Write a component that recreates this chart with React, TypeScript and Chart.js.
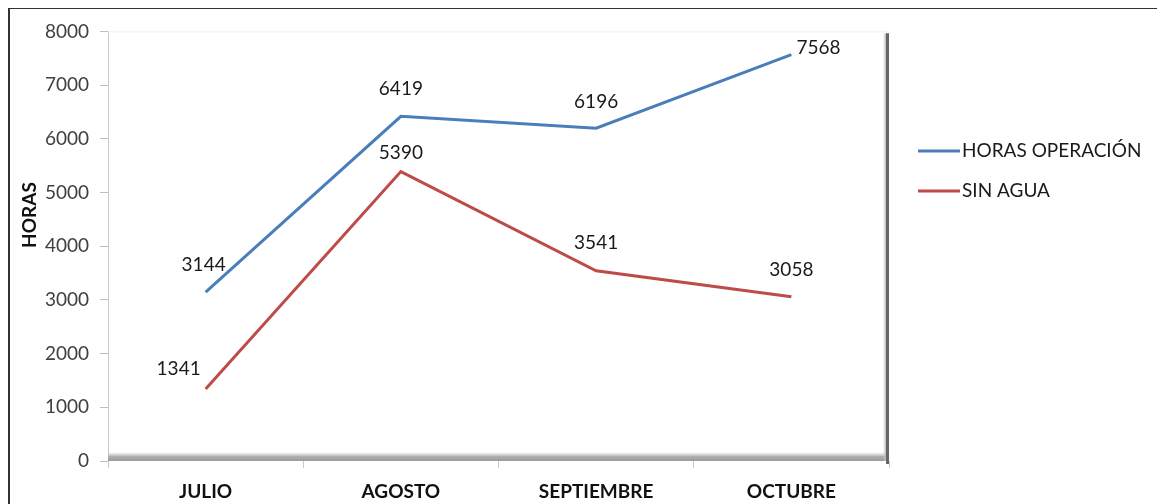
import React, { useEffect, useRef } from "react";
import { Chart, registerables } from "chart.js";

Chart.register(...registerables);

const categories = ["JULIO", "AGOSTO", "SEPTIEMBRE", "OCTUBRE"];
const horasOperacion = [3144, 6419, 6196, 7568];
const sinAgua = [1341, 5390, 3541, 3058];
const seriesNames = ["HORAS OPERACIÓN", "SIN AGUA"];
const yTitle = "HORAS";

const BLUE = "#4A7EBB";
const RED = "#BE4B48";
const FONT = "Lato, 'Open Sans', sans-serif";

// label placement per dataset/point: [dx, dy, align]
const labelPlacement: [number, number, CanvasTextAlign][][] = [
  [[-2, -27, "center"], [0, -27, "center"], [0, -26, "center"], [5, -7, "left"]],
  [[-27, -20, "center"], [0, -19, "center"], [0, -28, "center"], [0, -27, "center"]],
];

const decorPlugin = {
  id: "decor",
  beforeDatasetsDraw(chart: any) {
    const { ctx, chartArea } = chart;
    const { left, right, top, bottom } = chartArea;
    ctx.save();
    ctx.fillStyle = "#f0f0f0";
    ctx.fillRect(left, top, right - left, 1);
    const g = ctx.createLinearGradient(0, bottom - 9, 0, bottom);
    g.addColorStop(0, "rgba(200,200,200,0)");
    g.addColorStop(0.5, "#b0b0b0");
    g.addColorStop(1, "#9a9a9a");
    ctx.fillStyle = g;
    ctx.fillRect(left, bottom - 9, right - left, 9);
    const g2 = ctx.createLinearGradient(right - 6, 0, right, 0);
    g2.addColorStop(0, "rgba(200,200,200,0)");
    g2.addColorStop(0.5, "#b8b8b8");
    g2.addColorStop(1, "#6a6a6a");
    ctx.fillStyle = g2;
    ctx.fillRect(right - 6, top + 2, 6, bottom - top - 2);
    ctx.fillStyle = "#666";
    ctx.fillRect(right - 3, top + 2, 3, bottom - top + 1);
    ctx.restore();
  },
  afterDraw(chart: any) {
    const { ctx, chartArea } = chart;
    ctx.save();
    ctx.font = `19px ${FONT}`;
    ctx.fillStyle = "#1a1a1a";
    ctx.textBaseline = "middle";
    chart.data.datasets.forEach((ds: any, di: number) => {
      const meta = chart.getDatasetMeta(di);
      meta.data.forEach((pt: any, i: number) => {
        const [dx, dy, align] = labelPlacement[di][i];
        ctx.textAlign = align;
        ctx.fillText(String(ds.data[i]), pt.x + dx, pt.y + dy);
      });
    });
    const lx = chartArea.right + 29;
    chart.data.datasets.forEach((ds: any, di: number) => {
      const y = 142 + di * 40;
      ctx.strokeStyle = ds.borderColor;
      ctx.lineWidth = 3;
      ctx.beginPath();
      ctx.moveTo(lx, y);
      ctx.lineTo(lx + 42, y);
      ctx.stroke();
      ctx.textAlign = "left";
      ctx.fillStyle = "#1a1a1a";
      ctx.font = `19px ${FONT}`;
      ctx.fillText(ds.label, lx + 44, y);
    });
    ctx.translate(20, 206);
    ctx.rotate(-Math.PI / 2);
    ctx.font = `bold 19px ${FONT}`;
    ctx.textAlign = "center";
    ctx.fillStyle = "#111";
    ctx.fillText(yTitle, 0, 0);
    ctx.restore();
  },
};

export default function App() {
  const ref = useRef<HTMLCanvasElement>(null);
  useEffect(() => {
    if (!ref.current) return;
    const chart = new Chart(ref.current, {
      type: "line",
      data: {
        labels: categories,
        datasets: [
          {
            label: seriesNames[0],
            data: horasOperacion,
            borderColor: BLUE,
            backgroundColor: BLUE,
            borderWidth: 3,
            pointRadius: 0,
            tension: 0,
          },
          {
            label: seriesNames[1],
            data: sinAgua,
            borderColor: RED,
            backgroundColor: RED,
            borderWidth: 3,
            pointRadius: 0,
            tension: 0,
          },
        ],
      },
      options: {
        responsive: false,
        animation: false,
        layout: { padding: { left: 0, top: 20, right: 274, bottom: 0 } },
        plugins: { legend: { display: false }, tooltip: { enabled: false } },
        scales: {
          x: {
            offset: true,
            grid: {
              offset: true,
              drawOnChartArea: false,
              color: "#c8c8c8",
              tickLength: 7,
            },
            border: { display: false },
            ticks: {
              color: "#111",
              font: { family: FONT, size: 19, weight: "bold" },
              padding: 12,
              maxRotation: 0,
            },
            afterFit(scale: any) {
              scale.height = 48;
            },
          },
          y: {
            min: 0,
            max: 8000,
            grid: {
              drawOnChartArea: false,
              color: "#c0c0c0",
              tickLength: 8,
            },
            border: { display: true, color: "#c8c8c8", width: 1 },
            ticks: {
              stepSize: 1000,
              color: "#404040",
              font: { family: FONT, size: 19 },
              padding: 11,
              callback: (v: any) => String(v),
            },
            afterFit(scale: any) {
              scale.width = 98;
            },
          },
        },
      },
      plugins: [decorPlugin],
    });
    return () => chart.destroy();
  }, []);
  return (
    <div
      style={{
        width: 1153,
        height: 500,
        border: "2px solid #333",
        marginTop: -1,
        background: "#fff",
      }}
    >
      <canvas ref={ref} width={1153} height={500} style={{ display: "block" }} />
    </div>
  );
}
